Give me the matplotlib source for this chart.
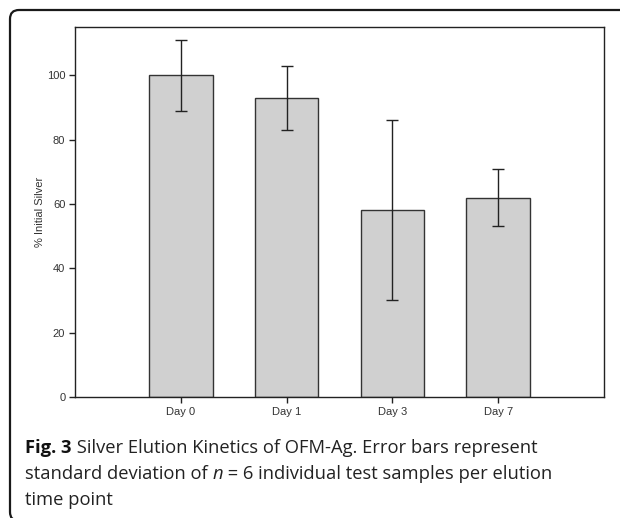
import matplotlib.pyplot as plt
from matplotlib.patches import FancyBboxPatch

days = ["Day 0", "Day 1", "Day 3", "Day 7"]
pct_silver = [100, 93, 58, 62]
pct_sd = [11, 10, 28, 9]

W, H = 620, 518
fig = plt.figure(figsize=(W / 100, H / 100), dpi=100)
fig.patch.set_facecolor("white")

# rounded frame, only top and left edges are visible
frame = FancyBboxPatch((10, -3), 700, 511, boxstyle="round,pad=0,rounding_size=9",
                       transform=None, fill=False, edgecolor="#1a1a1a", linewidth=1.6)
fig.patches.append(frame)

ax = fig.add_axes([75 / W, 1 - 397 / H, (604 - 75) / W, (397 - 27) / H])
x = range(len(days))
ax.bar(x, pct_silver, width=0.6, color="#d0d0d0", edgecolor="#333333", linewidth=1.0,
       yerr=pct_sd, capsize=4, error_kw=dict(ecolor="#222222", elinewidth=1.0, capthick=1.0))
ax.set_xlim(-1, 4)
ax.set_ylim(0, 115)
ax.set_xticks(list(x))
ax.set_xticklabels(days)
ax.set_yticks([0, 20, 40, 60, 80, 100])
ax.set_ylabel("% Initial Silver", fontsize=8, family="Liberation Sans", color="#333333", labelpad=1)
ax.tick_params(direction="out", length=4, width=1.0, labelsize=8, colors="#222222", pad=3)
for lab in ax.get_xticklabels() + ax.get_yticklabels():
    lab.set_family("Liberation Sans")
    lab.set_color("#333333")
for sp in ax.spines.values():
    sp.set_color("#222222")
    sp.set_linewidth(1.0)

# caption, built from pieces so "Fig. 3" can be bold and n italic
cap_kw = dict(fontsize=13.2, family="Open Sans", color="#222222", va="baseline", ha="left")
renderer = fig.canvas.get_renderer()


def put(xp, yp, s, **kw):
    t = fig.text(xp / W, 1 - yp / H, s, **{**cap_kw, **kw})
    return xp + t.get_window_extent(renderer).width


xe = put(25, 453, "Fig. 3", weight="bold", color="#111111")
put(xe, 453, " Silver Elution Kinetics of OFM-Ag. Error bars represent")
xe = put(25, 479, "standard deviation of ")
xe = put(xe, 479, "n", style="italic")
put(xe, 479, " = 6 individual test samples per elution")
put(25, 505, "time point")

fig.savefig("out.png", dpi=100)
